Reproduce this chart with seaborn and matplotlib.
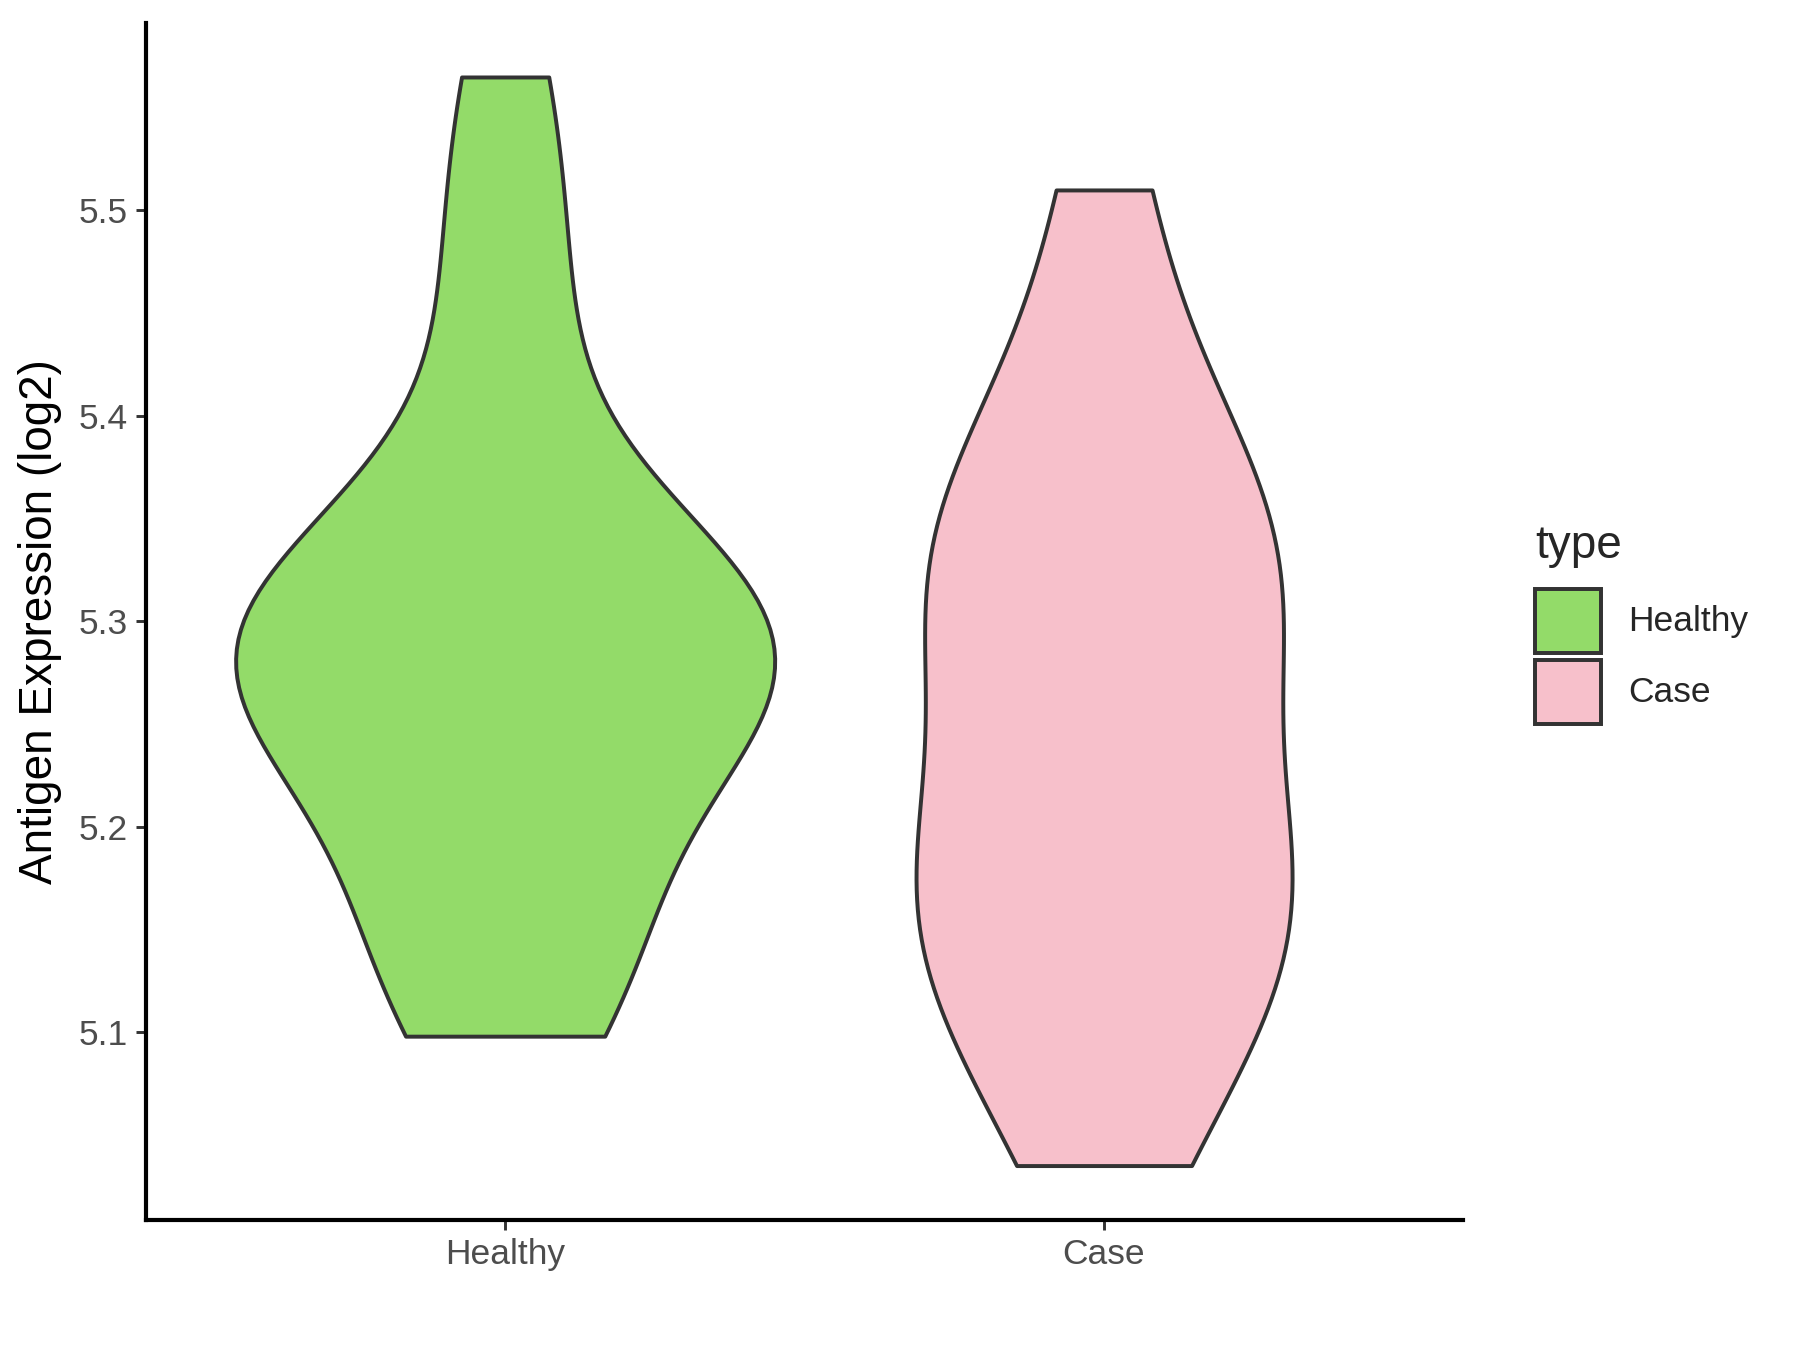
import numpy as np
import pandas as pd
import matplotlib
matplotlib.use("Agg")
import matplotlib.pyplot as plt
from matplotlib.patches import Patch
import seaborn as sns

# values (log2 antigen expression)
healthy_vals = [5.098, 5.12, 5.14, 5.17, 5.21, 5.24, 5.26, 5.27, 5.28, 5.285,
                5.29, 5.30, 5.31, 5.33, 5.35, 5.43, 5.49, 5.565]
case_vals = [5.035, 5.08, 5.11, 5.14, 5.16, 5.17, 5.19, 5.21, 5.27, 5.30,
             5.31, 5.33, 5.35, 5.38, 5.42, 5.51]
groups = ["Healthy", "Case"]
colors = {"Healthy": "#93DB69", "Case": "#F7C0CB"}
y_ticks = [5.1, 5.2, 5.3, 5.4, 5.5]

df = pd.DataFrame({
    "type": ["Healthy"] * len(healthy_vals) + ["Case"] * len(case_vals),
    "value": healthy_vals + case_vals,
})

sns.set_style("white")
plt.rcParams["font.family"] = ["Liberation Sans", "DejaVu Sans"]

fig = plt.figure(figsize=(12, 9), dpi=150)
ax = fig.add_axes([0.081, 0.0963, 0.732, 0.887])

# no hue here so that "area" scaling compares the two groups, like ggplot
sns.violinplot(data=df, x="type", y="value", order=groups, color="white",
               saturation=1, cut=0, inner=None, density_norm="area",
               width=0.9, bw_adjust=0.9, linewidth=1.9, linecolor="#333333",
               ax=ax)
for coll, g in zip(ax.collections, groups):
    coll.set_facecolor(colors[g])

ax.set_xlim(-0.6, 1.6)
ax.set_ylim(5.0085, 5.5915)
ax.set_yticks(y_ticks)
ax.set_yticklabels([f"{t:.1f}" for t in y_ticks])
ax.set_xlabel("")
ax.set_ylabel("Antigen Expression (log2)", fontsize=22, color="black", labelpad=8)
ax.tick_params(axis="both", labelsize=17, labelcolor="#4D4D4D", color="#333333",
               length=5, width=1.4, direction="out", left=True, bottom=True)
for side in ["top", "right"]:
    ax.spines[side].set_visible(False)
for side in ["left", "bottom"]:
    ax.spines[side].set_color("black")
    ax.spines[side].set_linewidth(2.0)

handles = [Patch(facecolor=colors[g], edgecolor="#333333", linewidth=1.9, label=g)
           for g in groups]
leg = fig.legend(handles=handles, title="type", loc="upper left",
                 bbox_to_anchor=(0.853, 0.612), frameon=False, fontsize=17,
                 title_fontsize=22, handlelength=1.85, handleheight=2.4,
                 labelspacing=0.2, handletextpad=0.76, borderpad=0, borderaxespad=0)
leg._legend_box.align = "left"
leg._legend_box.sep = 10

fig.savefig("out.png", dpi=150)
